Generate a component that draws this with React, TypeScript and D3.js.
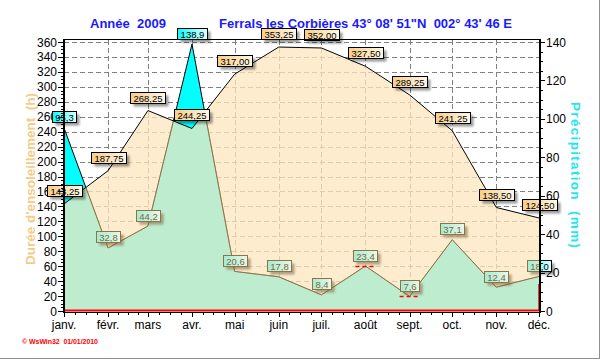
import React from 'react';
import * as d3 from 'd3';

const months = ["janv.", "févr.", "mars", "avr.", "mai", "juin", "juil.", "août", "sept.", "oct.", "nov.", "déc."];
const sunshine = [143.25, 187.75, 268.25, 244.25, 317.0, 353.25, 352.0, 327.5, 289.25, 241.25, 138.5, 124.5];
const rain = [95.3, 32.8, 44.2, 138.9, 20.6, 17.8, 8.4, 23.4, 7.6, 37.1, 12.4, 18.0];
const leftTicks = [0, 20, 40, 60, 80, 100, 120, 140, 160, 180, 200, 220, 240, 260, 280, 300, 320, 340, 360];
const rightTicks = [0, 20, 40, 60, 80, 100, 120, 140];
const redMarkMonths = ["août", "sept."];

const FONT = '"Liberation Sans", Arial, sans-serif';
const LABEL_FONT_SIZE = 9.5;

let ctx: CanvasRenderingContext2D | null = null;
function textWidth(s: string) {
  if (!ctx) {
    ctx = document.createElement('canvas').getContext('2d');
    if (ctx) ctx.font = `${LABEL_FONT_SIZE}px ${FONT}`;
  }
  return ctx ? ctx.measureText(s).width : s.length * 5.3;
}

const fmtSun = (v: number) => d3.format(".2f")(v).replace(".", ",");
const fmtRain = (v: number) => d3.format(".1f")(v).replace(".", ",");

type LabelProps = {
  cx: number; cy: number; text: string; grad: string; h: number;
  stroke?: string; color?: string; shadow?: string;
};

function ValueLabel({ cx, cy, text, grad, h, stroke = '#000', color = '#000', shadow = '#000' }: LabelProps) {
  const w = Math.round(textWidth(text) + 6);
  const bx = Math.round(cx - w / 2) + 0.5;
  const by = Math.round(cy - h / 2) + 0.5;
  return (
    <g>
      <rect x={bx + 3} y={by + 3} width={w} height={h} fill={shadow} opacity={0.4} filter="url(#blur)" />
      <rect x={bx} y={by} width={w} height={h} fill={`url(#${grad})`} stroke={stroke} strokeWidth={1} />
      <text x={bx + w / 2} y={by + h / 2 + 3.5} textAnchor="middle" fontSize={LABEL_FONT_SIZE} fontFamily={FONT} fill={color}>
        {text}
      </text>
    </g>
  );
}

export default function App() {
  const width = 603;
  const height = 360;
  const dates = months.map((_, i) => new Date(2009, i, 1));

  const x = d3.scaleTime().domain([dates[0], dates[11]]).range([64, 539]);
  const yL = d3.scaleLinear().domain([0, 360]).range([311, 42]);
  const yR = d3.scaleLinear().domain([0, 140]).range([311, 42]);

  const left = x(dates[0]);
  const right = x(dates[11]);
  const top = 40;
  const bottom = yL(0);

  const sunArea = d3.area<number>().x((_, i) => x(dates[i])).y0(bottom).y1(d => yL(d));
  const sunLine = d3.line<number>().x((_, i) => x(dates[i])).y(d => yL(d));
  const rainArea = d3.area<number>().x((_, i) => x(dates[i])).y0(bottom).y1(d => yR(d));
  const rainLine = d3.line<number>().x((_, i) => x(dates[i])).y(d => yR(d));

  const minorX: number[] = [];
  for (let i = 0; i < dates.length - 1; i++) {
    const a = dates[i].getTime();
    const b = dates[i + 1].getTime();
    for (let k = 1; k < 4; k++) minorX.push(x(new Date(a + (k * (b - a)) / 4)));
  }
  const minorL = d3.range(0, 361, 5);
  const minorR = d3.range(0, 141, 5);

  return (
    <svg width={width} height={height} style={{ position: 'absolute', left: 0, top: 0, background: '#fff' }}>
      <defs>
        <filter id="blur" x="-20%" y="-40%" width="140%" height="180%">
          <feGaussianBlur stdDeviation={1.2} />
        </filter>
        <linearGradient id="gSun" x1="0" x2="1" y1="0" y2="0">
          <stop offset="0" stopColor="#f8cd86" />
          <stop offset="1" stopColor="#fff7e8" />
        </linearGradient>
        <linearGradient id="gRain" x1="0" x2="1" y1="0" y2="0">
          <stop offset="0" stopColor="#00ffff" />
          <stop offset="1" stopColor="#e8ffff" />
        </linearGradient>
        <linearGradient id="gRainIn" x1="0" x2="1" y1="0" y2="0">
          <stop offset="0" stopColor="#a4ecd2" />
          <stop offset="1" stopColor="#eaf8e6" />
        </linearGradient>
        <clipPath id="sunClip">
          <path d={sunArea(sunshine) || ''} />
        </clipPath>
      </defs>

      {/* title */}
      <text x={90} y={28} fontFamily={FONT} fontWeight="bold" fontSize={13} fill="#1a1aff" style={{ whiteSpace: 'pre' }}>
        Année  2009
      </text>
      <text x={219} y={28} fontFamily={FONT} fontWeight="bold" fontSize={13} fill="#1a1aff" style={{ whiteSpace: 'pre' }}>
        Ferrals les Corbières 43° 08' 51"N  002° 43' 46 E
      </text>

      {/* tick labels */}
      <g fontFamily={FONT} fontSize={12} fill="#000">
        {leftTicks.map(t => (
          <text key={'ll' + t} x={57} y={yL(t) + 4.5} textAnchor="end">{t}</text>
        ))}
        {rightTicks.map(t => (
          <text key={'rl' + t} x={546} y={yR(t) + 4.5} textAnchor="start">{t}</text>
        ))}
        {months.map((m, i) => (
          <text key={'xl' + i} x={x(dates[i])} y={329} textAnchor="middle">{m}</text>
        ))}
      </g>

      {/* grid */}
      <g stroke="#808080" strokeDasharray="5,3" strokeWidth={1}>
        {leftTicks.filter(t => t > 0).map(t => (
          <line key={'h' + t} x1={left} x2={right} y1={Math.round(yL(t)) + 0.5} y2={Math.round(yL(t)) + 0.5} />
        ))}
        {dates.slice(1, 11).map((d, i) => (
          <line key={'v' + i} x1={Math.round(x(d)) + 0.5} x2={Math.round(x(d)) + 0.5} y1={top} y2={bottom} />
        ))}
      </g>

      {/* precipitation (under) */}
      <path d={rainArea(rain) || ''} fill="#00ffff" />
      <path d={rainLine(rain) || ''} fill="none" stroke="#000" strokeWidth={1} />
      {rain.map((v, i) => (
        <ValueLabel key={'r' + i} cx={x(dates[i])} cy={yR(v) - 11} text={fmtRain(v)} grad="gRain" h={11} />
      ))}

      {/* sunshine overlay */}
      <path d={sunArea(sunshine) || ''} fill="#fce6be" fillOpacity={0.75} />

      {/* precipitation seen through the sunshine area */}
      <g clipPath="url(#sunClip)">
        <path d={rainLine(rain) || ''} fill="none" stroke="#8c7448" strokeWidth={1} />
        {rain.map((v, i) => (
          <ValueLabel key={'ri' + i} cx={x(dates[i])} cy={yR(v) - 11} text={fmtRain(v)} grad="gRainIn" h={11}
            stroke="#8c7448" color="#7a6847" shadow="#6b5530" />
        ))}
      </g>

      <path d={sunLine(sunshine) || ''} fill="none" stroke="#000" strokeWidth={1} />

      {/* red marks */}
      <line x1={left} x2={right} y1={bottom - 0.5} y2={bottom - 0.5} stroke="#ff0000" strokeWidth={2} />
      <line x1={right} x2={right} y1={bottom} y2={yR(14)} stroke="#ff0000" strokeWidth={1.5} />
      {redMarkMonths.map(m => {
        const i = months.indexOf(m);
        const cx = x(dates[i]);
        const yy = Math.round(yR(rain[i])) + 0.5;
        return <line key={m} x1={cx - 10} x2={cx + 11} y1={yy} y2={yy} stroke="#ff0000" strokeWidth={1.5} strokeDasharray="4,3" />;
      })}

      {sunshine.map((v, i) => (
        <ValueLabel key={'s' + i} cx={x(dates[i])} cy={yL(v) - 13.5} text={fmtSun(v)} grad="gSun" h={11} />
      ))}

      {/* frame and axes */}
      <line x1={left - 1} x2={right + 1} y1={top - 0.5} y2={top - 0.5} stroke="#000" strokeWidth={1} />
      <line x1={left - 1} x2={right + 1} y1={bottom + 1.5} y2={bottom + 1.5} stroke="#000" strokeWidth={1} />
      <line x1={left} x2={left} y1={top - 1} y2={bottom + 2} stroke="#000" strokeWidth={2} />
      <line x1={right + 1} x2={right + 1} y1={top - 1} y2={bottom + 2} stroke="#000" strokeWidth={2} />

      <g stroke="#000" strokeWidth={1}>
        {minorL.map(t => (
          <line key={'ml' + t} x1={left - 3} x2={left} y1={Math.round(yL(t)) + 0.5} y2={Math.round(yL(t)) + 0.5} />
        ))}
        {leftTicks.map(t => (
          <line key={'tl' + t} x1={left - 6} x2={left} y1={Math.round(yL(t)) + 0.5} y2={Math.round(yL(t)) + 0.5} />
        ))}
        {minorR.map(t => (
          <line key={'mr' + t} x1={right + 1} x2={right + 4} y1={Math.round(yR(t)) + 0.5} y2={Math.round(yR(t)) + 0.5} />
        ))}
        {rightTicks.map(t => (
          <line key={'tr' + t} x1={right + 1} x2={right + 6} y1={Math.round(yR(t)) + 0.5} y2={Math.round(yR(t)) + 0.5} />
        ))}
        {dates.map((d, i) => (
          <line key={'tx' + i} x1={Math.round(x(d)) + 0.5} x2={Math.round(x(d)) + 0.5} y1={bottom + 1} y2={bottom + 6} />
        ))}
        {minorX.map((v, i) => (
          <line key={'mx' + i} x1={Math.round(v) + 0.5} x2={Math.round(v) + 0.5} y1={bottom + 1} y2={bottom + 4} />
        ))}
      </g>

      {/* axis titles */}
      <text transform="translate(34.5,179) rotate(-90)" textAnchor="middle" fontFamily={FONT} fontWeight="bold" fontSize={13.5}
        fill="#f5cb88" textLength={172} lengthAdjust="spacing" style={{ whiteSpace: 'pre' }}>
        Durée d'ensoleillement  (h)
      </text>
      <text transform="translate(571,175) rotate(90)" textAnchor="middle" fontFamily={FONT} fontWeight="bold" fontSize={13.5}
        fill="#1fe6f2" textLength={146} lengthAdjust="spacing" style={{ whiteSpace: 'pre' }}>
        Précipitation  (mm)
      </text>

      {/* footer */}
      <text x={22} y={344} fontFamily={FONT} fontWeight="bold" fontSize={7} fill="#ff0000" textLength={76} lengthAdjust="spacing" style={{ whiteSpace: 'pre' }}>
        © WsWin32  01/01/2010
      </text>

      {/* outer border */}
      <line x1={599.5} x2={599.5} y1={0} y2={359} stroke="#909090" strokeWidth={1} />
      <line x1={0} x2={600} y1={358.5} y2={358.5} stroke="#909090" strokeWidth={1} />
    </svg>
  );
}
